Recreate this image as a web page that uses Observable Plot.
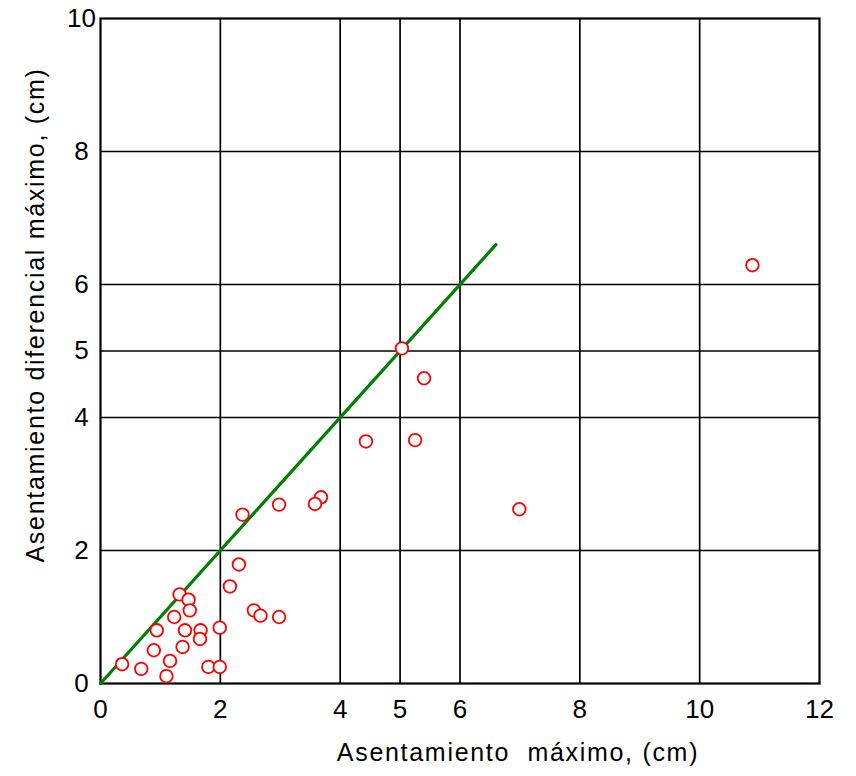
<!DOCTYPE html>
<html>
<head>
<meta charset="utf-8">
<script src="https://cdn.jsdelivr.net/npm/d3@7"></script>
<script src="https://cdn.jsdelivr.net/npm/@observablehq/plot@0.6"></script>
<style>
  html, body { margin: 0; padding: 0; background: #fff; }
</style>
</head>
<body>
<div id="chart"></div>
<script>
// Data
const asentamientoMax = [10.88, 5.03, 5.40, 4.43, 5.25, 6.99, 3.68, 3.58, 2.98, 2.37,
  2.31, 2.16, 1.32, 1.47, 1.49, 1.23, 2.56, 2.67, 2.98, 0.94,
  1.41, 1.67, 1.66, 1.99, 0.89, 1.37, 0.36, 0.68, 1.16, 1.80,
  1.99, 1.10];
const asentamientoDif = [6.29, 5.04, 4.59, 3.64, 3.66, 2.62, 2.80, 2.70, 2.69, 2.54,
  1.79, 1.46, 1.34, 1.26, 1.10, 1.00, 1.10, 1.02, 1.00, 0.80,
  0.80, 0.80, 0.67, 0.84, 0.50, 0.55, 0.29, 0.22, 0.34, 0.25,
  0.25, 0.11];

const lineaX = [0, 6.6];
const lineaY = [0, 6.6];

const xTicks = [0, 2, 4, 5, 6, 8, 10, 12];
const yTicks = [0, 2, 4, 5, 6, 8, 10];
const xGrid = [2, 4, 5, 6, 8, 10];
const yGrid = [2, 4, 5, 6, 8];

const xTitle = "Asentamiento\u00a0\u00a0máximo, (cm)";
const yTitle = "Asentamiento diferencial máximo, (cm)";

const puntos = asentamientoMax.map((x, i) => ({x, y: asentamientoDif[i]}));
const linea = lineaX.map((x, i) => ({x, y: lineaY[i]}));

const font = "'Liberation Sans', Arial, Helvetica, sans-serif";

const chart = Plot.plot({
  width: 856,
  height: 776,
  marginLeft: 100,
  marginRight: 37,
  marginTop: 18,
  marginBottom: 93,
  x: {domain: [0, 12]},
  y: {domain: [0, 10]},
  style: {fontFamily: font, fontSize: "25px", color: "#000", background: "#fff"},
  marks: [
    Plot.ruleX(xGrid, {stroke: "#000", strokeWidth: 1.7}),
    Plot.ruleY(yGrid, {stroke: "#000", strokeWidth: 1.7}),
    Plot.frame({stroke: "#000", strokeWidth: 2.2}),
    Plot.line(linea, {x: "x", y: "y", stroke: "#008000", strokeWidth: 3.2}),
    Plot.dot(puntos, {x: "x", y: "y", r: 6.3, stroke: "#ff0000", fill: "#fff", strokeWidth: 1.8}),
    Plot.axisX({ticks: xTicks, tickSize: 0, tickPadding: 16, tickFormat: d => String(d), label: null, fontSize: 26}),
    Plot.axisY({ticks: yTicks, tickSize: 0, tickPadding: 19, textAnchor: "middle", tickFormat: d => String(d), label: null, fontSize: 26}),
    Plot.text([xTitle], {frameAnchor: "bottom", dx: 58, dy: 69, lineAnchor: "middle", fontSize: 25, fill: "#000"}),
    Plot.text([yTitle], {frameAnchor: "left", rotate: -90, dx: -65, dy: -36, textAnchor: "middle", lineAnchor: "middle", fontSize: 25, fill: "#000"})
  ]
});

// widen the title text slightly, like the reference
d3.select(chart).selectAll("text").filter(function() { return this.textContent === xTitle || this.textContent === yTitle; })
  .attr("letter-spacing", "1.7px");

document.getElementById("chart").appendChild(chart);
</script>
</body>
</html>
